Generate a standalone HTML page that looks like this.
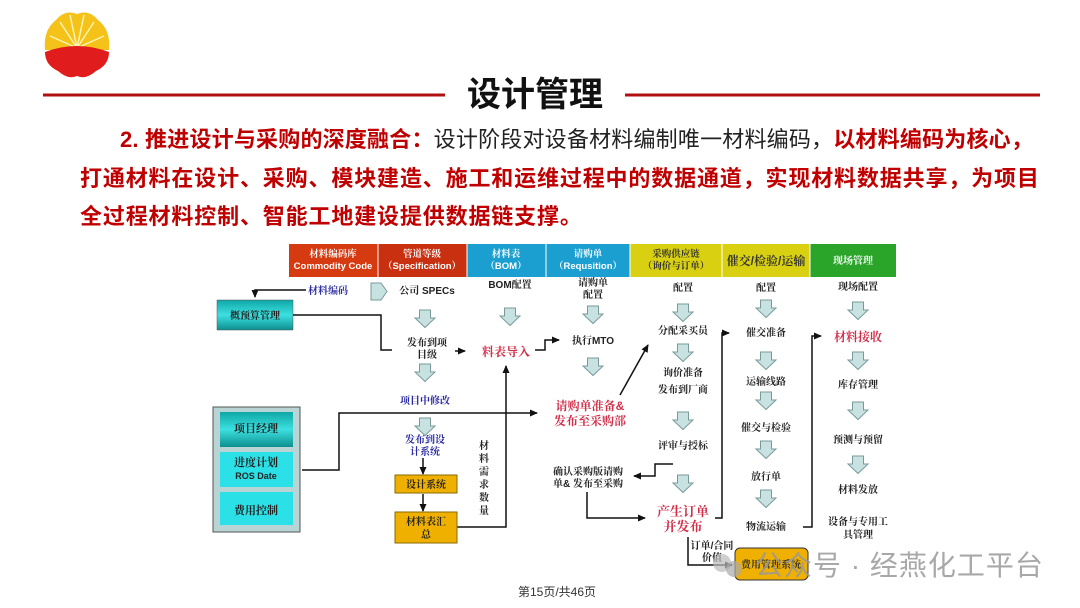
<!DOCTYPE html>
<html><head><meta charset="utf-8">
<style>
html,body{margin:0;padding:0;background:#fff;}
body{width:1080px;height:608px;overflow:hidden;position:relative;font-family:"Liberation Sans","Noto Sans CJK SC",sans-serif;}
.p{position:absolute;font-size:22px;font-weight:bold;color:#c00000;letter-spacing:0.85px;white-space:nowrap;line-height:1;}
.n{color:#222;font-weight:normal;}
</style></head><body>
<svg width="1080" height="608" style="position:absolute;left:0;top:0" font-family="Liberation Sans,Noto Serif CJK SC,Noto Sans CJK SC,sans-serif">
<defs>
<symbol id="da" viewBox="0 0 20 18" width="20" height="18" overflow="visible">
<path d="M4.5 0h11v8h4.5l-10 9.5l-10-9.5h4.5z" fill="#c8e2e2" stroke="#7a9a9a" stroke-width="1"/>
</symbol>
<marker id="ah" markerWidth="8" markerHeight="8" refX="7" refY="4" orient="auto" markerUnits="userSpaceOnUse"><path d="M0 0.5L8 4L0 7.5z" fill="#111"/></marker>
<linearGradient id="tg" x1="0" y1="0" x2="0" y2="1"><stop offset="0" stop-color="#0fa7a7"/><stop offset="0.5" stop-color="#3de0e0"/><stop offset="1" stop-color="#0c8f8f"/></linearGradient>
</defs>
<!-- logo -->
<g>
<path d="M45 50 Q43 30 56 20 Q65 9 77 14 Q89 9 98 20 Q111 30 109 50 Z" fill="#f5c21a"/>
<path d="M77 48 L60 22 M77 48 L70 15 M77 48 L84 15 M77 48 L94 22 M77 48 L50 36 M77 48 L104 36" stroke="#fff5b0" stroke-width="1.5"/>
<path d="M45 52 Q77 40 109 52 Q109 65 96 71 Q86 80 77 76 Q68 80 58 71 Q45 65 45 52Z" fill="#e01c1c"/>
</g>
<line x1="43" y1="95" x2="445" y2="95" stroke="#b01010" stroke-width="3"/>
<line x1="625" y1="95" x2="1040" y2="95" stroke="#b01010" stroke-width="3"/>
<text x="535" y="106" text-anchor="middle" font-size="34" font-weight="bold" fill="#111" font-family="Liberation Sans,Noto Sans CJK SC,sans-serif">设计管理</text>

<!-- header bar -->
<rect x="289" y="244" width="89" height="33" fill="#d63a10"/>
<rect x="378" y="244" width="89" height="33" fill="#c83010"/>
<rect x="467" y="244" width="79" height="33" fill="#1a9fd0"/>
<rect x="546" y="244" width="84" height="33" fill="#1a9fd0"/>
<rect x="630" y="244" width="92" height="33" fill="#d8d010"/>
<rect x="722" y="244" width="88" height="33" fill="#d8d010"/>
<rect x="810" y="244" width="86" height="33" fill="#2aa52a"/>
<g stroke="#fff" stroke-width="1"><line x1="378" y1="244" x2="378" y2="277"/><line x1="467" y1="244" x2="467" y2="277"/><line x1="546" y1="244" x2="546" y2="277"/><line x1="630" y1="244" x2="630" y2="277"/><line x1="722" y1="244" x2="722" y2="277"/><line x1="810" y1="244" x2="810" y2="277"/></g>
<g font-size="9.5" fill="#fff" text-anchor="middle" font-weight="bold">
<text x="333" y="257">材料编码库</text><text x="333" y="269">Commodity Code</text>
<text x="422" y="257">管道等级</text><text x="422" y="269">（Specification）</text>
<text x="506" y="257">材料表</text><text x="506" y="269">（BOM）</text>
<text x="588" y="257">请购单</text><text x="588" y="269">（Requsition）</text>
</g>
<g font-size="9.5" fill="#333" text-anchor="middle" font-weight="bold">
<text x="676" y="257">采购供应链</text><text x="676" y="269">（询价与订单）</text>
<text x="766" y="265" font-size="12">催交/检验/运输</text>
</g>
<text x="853" y="264" font-size="10" fill="#fff" text-anchor="middle" font-weight="bold">现场管理</text>

<!-- left -->
<text x="308" y="294" font-size="10" fill="#2a2aa0" font-weight="bold">材料编码</text>
<polyline points="306,290 255,290 255,297" fill="none" stroke="#111" stroke-width="1.5" marker-end="url(#ah)"/>
<rect x="217" y="300" width="76" height="30" fill="url(#tg)" stroke="#555" stroke-width="0.5"/>
<text x="255" y="319" font-size="10" text-anchor="middle" font-weight="bold" fill="#222">概预算管理</text>
<path d="M371 283h10l6 8.5l-6 8.5h-10z" fill="#c8e2e2" stroke="#7a9a9a"/>
<g font-size="10" fill="#222" text-anchor="middle" font-weight="bold">
<text x="427" y="294">公司 SPECs</text>
<text x="427" y="346">发布到项</text><text x="427" y="358">目级</text>
<text x="510" y="288">BOM配置</text>
<text x="593" y="286">请购单</text><text x="593" y="298">配置</text>
<text x="593" y="344">执行MTO</text>
<text x="683" y="291">配置</text>
<text x="683" y="334">分配采买员</text>
<text x="683" y="376">询价准备</text><text x="683" y="393">发布到厂商</text>
<text x="683" y="449">评审与授标</text>
<text x="588" y="475">确认采购版请购</text><text x="588" y="487">单&amp; 发布至采购</text>
<text x="766" y="291">配置</text>
<text x="766" y="336">催交准备</text>
<text x="766" y="385">运输线路</text>
<text x="766" y="431">催交与检验</text>
<text x="766" y="480">放行单</text>
<text x="766" y="530">物流运输</text>
<text x="858" y="290">现场配置</text>
<text x="858" y="388">库存管理</text>
<text x="858" y="443">预测与预留</text>
<text x="858" y="493">材料发放</text>
<text x="858" y="525">设备与专用工</text><text x="858" y="538">具管理</text>
</g>
<g font-size="10" fill="#2a2aa0" text-anchor="middle" font-weight="bold">
<text x="425" y="404">项目中修改</text>
<text x="425" y="443">发布到设</text><text x="425" y="455">计系统</text>
</g>
<g fill="#d0304a" text-anchor="middle" font-weight="bold">
<text x="506" y="356" font-size="12">料表导入</text>
<text x="590" y="410" font-size="12">请购单准备&amp;</text><text x="590" y="425" font-size="12">发布至采购部</text>
<text x="683" y="516" font-size="13">产生订单</text><text x="683" y="531" font-size="13">并发布</text>
<text x="858" y="341" font-size="12">材料接收</text>
</g>
<!-- down arrows -->
<use href="#da" x="415" y="310"/><use href="#da" x="415" y="364"/><use href="#da" x="415" y="418"/>
<use href="#da" x="500" y="308"/><use href="#da" x="583" y="306"/><use href="#da" x="583" y="358"/>
<use href="#da" x="673" y="304"/><use href="#da" x="673" y="344"/><use href="#da" x="673" y="412"/><use href="#da" x="673" y="475"/>
<use href="#da" x="756" y="300"/><use href="#da" x="756" y="352"/><use href="#da" x="756" y="392"/><use href="#da" x="756" y="441"/><use href="#da" x="756" y="490"/>
<use href="#da" x="848" y="302"/><use href="#da" x="848" y="352"/><use href="#da" x="848" y="402"/><use href="#da" x="848" y="456"/>
<!-- connectors -->
<g fill="none" stroke="#111" stroke-width="1.5">
<polyline points="293,315 381,315 381,350 392,350"/>
<line x1="455" y1="351" x2="465" y2="351" marker-end="url(#ah)"/>
<polyline points="535,350 545,350 545,340 559,340" marker-end="url(#ah)"/>
<line x1="620" y1="395" x2="648" y2="345" marker-end="url(#ah)"/>
<polyline points="302,470 339,470 339,413 537,413" marker-end="url(#ah)"/>
<polyline points="457,527 506,527 506,366" marker-end="url(#ah)"/>
<line x1="423" y1="458" x2="423" y2="474" marker-end="url(#ah)"/>
<line x1="423" y1="494" x2="423" y2="511" marker-end="url(#ah)"/>
<polyline points="673,464 655,464 655,476 634,476" marker-end="url(#ah)"/>
<polyline points="587,492 587,518 645,518" marker-end="url(#ah)"/>
<polyline points="715,518 722,518 722,333 729,333" marker-end="url(#ah)"/>
<polyline points="803,527 812,527 812,336 821,336" marker-end="url(#ah)"/>
<polyline points="688,537 688,565 732,565" marker-end="url(#ah)"/>
</g>
<g font-size="10" fill="#222" text-anchor="middle" font-weight="bold">
<text x="484" y="449">材</text><text x="484" y="462">料</text><text x="484" y="475">需</text><text x="484" y="488">求</text><text x="484" y="501">数</text><text x="484" y="514">量</text>
<text x="712" y="549">订单/合同</text><text x="712" y="561">价值</text>
</g>
<!-- PM panel -->
<rect x="213" y="407" width="87" height="125" fill="#b8d4d4" stroke="#555"/>
<rect x="220" y="412" width="73" height="35" fill="url(#tg)"/>
<rect x="220" y="452" width="73" height="35" fill="#2be0e6"/>
<rect x="220" y="492" width="73" height="33" fill="#2be0e6"/>
<g font-size="11" fill="#222" text-anchor="middle" font-weight="bold">
<text x="256" y="432">项目经理</text><text x="256" y="466">进度计划</text><text x="256" y="479" font-size="9">ROS Date</text><text x="256" y="514">费用控制</text>
</g>
<rect x="395" y="475" width="62" height="18" fill="#f0b000" stroke="#8a6a00"/>
<rect x="395" y="512" width="62" height="31" fill="#f0b000" stroke="#8a6a00"/>
<g font-size="10" fill="#222" text-anchor="middle" font-weight="bold">
<text x="426" y="488">设计系统</text><text x="426" y="525">材料表汇</text><text x="426" y="538">总</text>
</g>
<rect x="735" y="548" width="73" height="32" rx="5" fill="#f0b000" stroke="#333"/>
<text x="771" y="568" font-size="10" fill="#333" text-anchor="middle" font-weight="bold">费用管理系统</text>
<!-- watermark -->
<circle cx="722" cy="563" r="9" fill="#bbb" opacity="0.7"/><circle cx="734" cy="569" r="8" fill="#aaa" opacity="0.7"/>
<text x="755" y="575" font-size="28" fill="#999" opacity="0.85" font-family="Liberation Sans,Noto Sans CJK SC,sans-serif" letter-spacing="1">公众号 · 经燕化工平台</text>
<text x="557" y="596" font-size="12" fill="#333" text-anchor="middle" font-family="Liberation Sans,Noto Sans CJK SC,sans-serif">第15页/共46页</text>
</svg>
<div class="p" style="left:120px;top:129px;letter-spacing:0.2px;">2. 推进设计与采购的深度融合：<span class="n">设计阶段对设备材料编制唯一材料编码，</span>以材料编码为核心，</div>
<div class="p" style="left:80px;top:168px;">打通材料在设计、采购、模块建造、施工和运维过程中的数据通道，实现材料数据共享，为项目</div>
<div class="p" style="left:80px;top:206px;">全过程材料控制、智能工地建设提供数据链支撑。</div>
</body></html>
